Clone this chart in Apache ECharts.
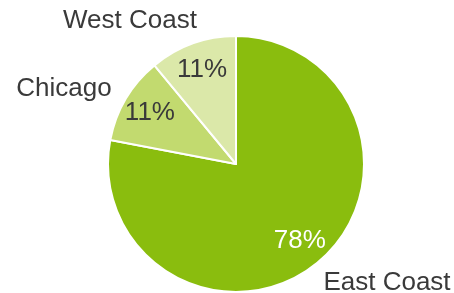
<!DOCTYPE html>
<html>
<head>
<meta charset="utf-8">
<script src="https://cdn.jsdelivr.net/npm/echarts@6/dist/echarts.min.js"></script>
<style>
  html, body { margin: 0; padding: 0; background: #fff; }
  #chart { width: 454px; height: 293px; }
</style>
</head>
<body>
<div id="chart"></div>
<script>
const regions = ['East Coast', 'Chicago', 'West Coast'];
const shares = [78, 11, 11];
const sliceColors = ['#8abd0e', '#c2da6f', '#dbe8a9'];
const percentColors = ['#ffffff', '#3a3a3a', '#3a3a3a'];

// where the name labels sit (the source chart places them freely)
const nameSpots = [
  { x: 387, y: 283 },
  { x: 64, y: 89 },
  { x: 130, y: 21 }
];

const chart = echarts.init(document.getElementById('chart'), null, { renderer: 'canvas' });

const font = '"Liberation Sans", Arial, sans-serif';

chart.setOption({
  animation: false,
  series: [
    {
      type: 'pie',
      center: [236, 164],
      radius: [0, 128],
      startAngle: 90,
      clockwise: true,
      silent: true,
      itemStyle: { borderColor: '#fff', borderWidth: 2 },
      label: {
        show: true,
        position: 'outside',
        alignTo: 'none',
        overflow: 'none',
        formatter: p => p.name,
        fontFamily: font,
        fontSize: 26,
        color: '#3a3a3a'
      },
      labelLine: { show: false },
      labelLayout: p => ({
        x: nameSpots[p.dataIndex].x,
        y: nameSpots[p.dataIndex].y,
        align: 'center',
        verticalAlign: 'middle'
      }),
      data: regions.map((r, i) => ({
        name: r,
        value: shares[i],
        itemStyle: { color: sliceColors[i] }
      }))
    },
    {
      // invisible ring just to park the percentages at ~3/4 radius
      type: 'pie',
      center: [236, 164],
      radius: [66, 128],
      startAngle: 90,
      clockwise: true,
      silent: true,
      itemStyle: { color: 'rgba(0,0,0,0)', borderWidth: 0 },
      label: {
        show: true,
        position: 'inside',
        formatter: p => p.value + '%',
        fontFamily: font,
        fontSize: 26
      },
      data: regions.map((r, i) => ({
        name: r,
        value: shares[i],
        label: { color: percentColors[i] }
      }))
    }
  ]
});
</script>
</body>
</html>
